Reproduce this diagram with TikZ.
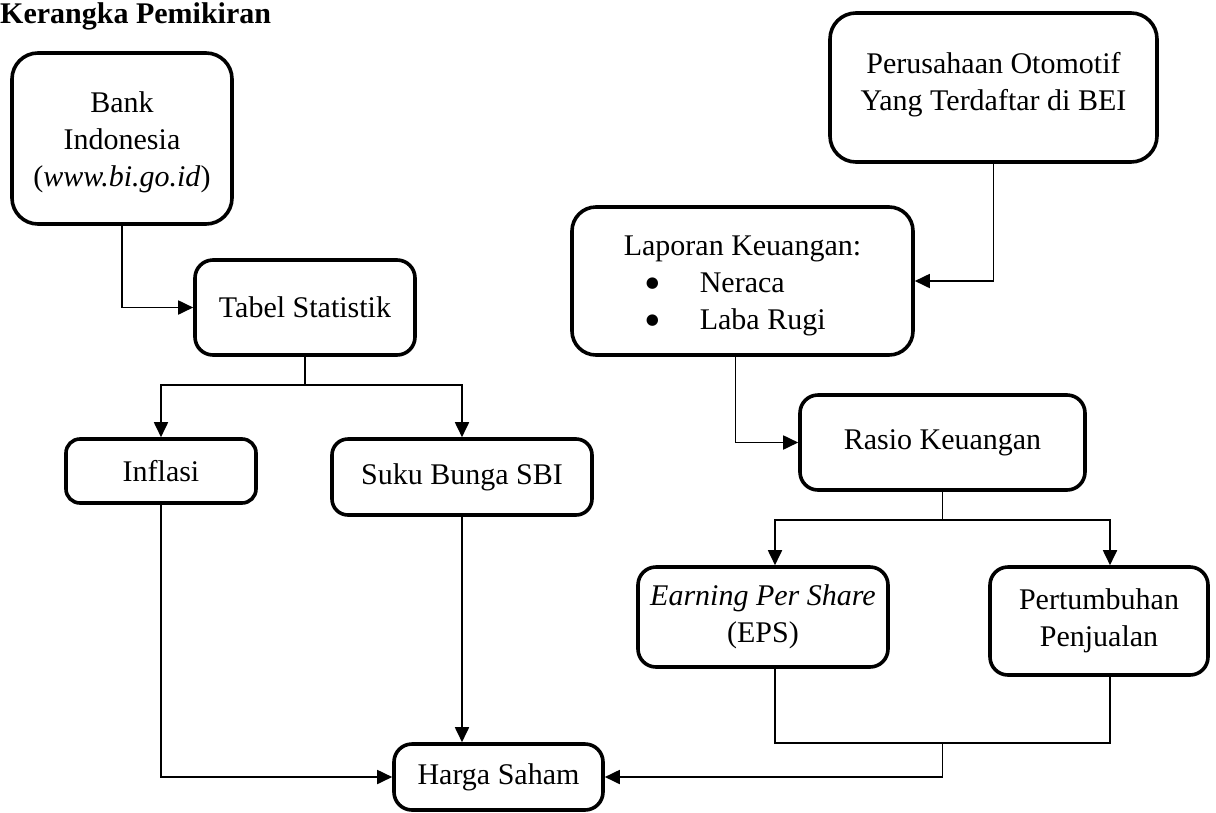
\documentclass[tikz,border=0pt]{standalone}
\usepackage{fontspec}
\setmainfont{Liberation Serif}
\newfontfamily\dejavu{DejaVu Sans}
\usetikzlibrary{arrows.meta}
\newcommand{\bul}{\makebox[76pt][l]{\hspace*{22pt}\raisebox{5pt}{\dejavu\fontsize{15}{37}\selectfont ●}}}
\begin{document}
\begin{tikzpicture}[x=1pt,y=-1pt,
  box/.style={draw=black,line width=3.6pt,rounded corners=18pt,align=center,inner sep=0pt,font=\fontsize{30}{37}\selectfont},
  txt/.style={align=center,inner sep=0pt,font=\fontsize{30}{37}\selectfont},
  ln/.style={line width=1.8pt},
  arr/.style={line width=1.8pt,-{Triangle[length=15pt,width=14pt]}}]
\useasboundingbox (0,0) rectangle (1216,812);
\node[anchor=base west,font=\fontsize{30}{30}\selectfont\bfseries,inner sep=0pt] (title) at (0,23) {Kerangka Pemikiran};
% left
\node[box,rounded corners=26pt,minimum width=220pt,minimum height=171pt] (bank) at (122,138.5) {};
\node[txt] (bankt) at ([yshift=-4pt]bank.center) {Bank\\Indonesia\\(\textit{www.bi.go.id})};
\node[box,minimum width=220pt,minimum height=95pt] (tabel) at (305,307.5) {Tabel Statistik};
\node[box,rounded corners=14pt,minimum width=190pt,minimum height=64pt] (infl) at (161,471) {Inflasi};
\node[box,rounded corners=16pt,minimum width=260pt,minimum height=76pt] (suku) at (462,477) {Suku Bunga SBI};
\node[box,minimum width=209pt,minimum height=66pt] (harga) at (498.5,777) {Harga Saham};
% right
\node[box,rounded corners=26pt,minimum width=327pt,minimum height=149pt] (peru) at (993.5,87.5) {};
\node[txt] (perut) at ([yshift=3pt]peru.center) {Perusahaan Otomotif\\Yang Terdaftar di BEI};
\node[box,rounded corners=24pt,minimum width=341pt,minimum height=148pt] (lap) at (742.5,281) {};
\node[txt] (lapt) at ([yshift=-4pt]lap.center)
  {\begin{tabular}{@{}l@{}}Laporan Keuangan:\\ \bul Neraca\\ \bul Laba Rugi\end{tabular}};
\node[box,minimum width=285pt,minimum height=95pt] (rasio) at (942.5,442.5) {Rasio Keuangan};
\node[box,minimum width=250pt,minimum height=100pt] (eps) at (763,617) {\textit{Earning Per Share}\\(EPS)};
\node[box,minimum width=218pt,minimum height=108pt] (pert) at (1099,621) {Pertumbuhan\\Penjualan};
% connectors left
\draw[arr] (bank.south) |- (tabel.west);
\coordinate (tj) at (305,385);
\draw[ln] (tabel.south) -- (tj);
\draw[arr] (tj) -| (infl.north);
\draw[arr] (tj) -| (suku.north);
\draw[arr] (infl.south) |- (harga.west);
\draw[arr] (suku.south) -- (suku.south |- harga.north);
% connectors right
\draw[arr] (peru.south) |- (lap.east);
\draw[arr] ([xshift=-7pt]lap.south) |- (rasio.west);
\coordinate (rj) at (942.5,520);
\draw[ln] (rasio.south) -- (rj);
\draw[arr] (rj) -| ([xshift=12pt]eps.north);
\draw[arr] (rj) -| ([xshift=11pt]pert.north);
\coordinate (bj) at (942.5,743);
\draw[ln] ([xshift=12pt]eps.south) |- (bj);
\draw[ln] ([xshift=11pt]pert.south) |- (bj);
\draw[arr] (bj) |- (harga.east);
\end{tikzpicture}
\end{document}
